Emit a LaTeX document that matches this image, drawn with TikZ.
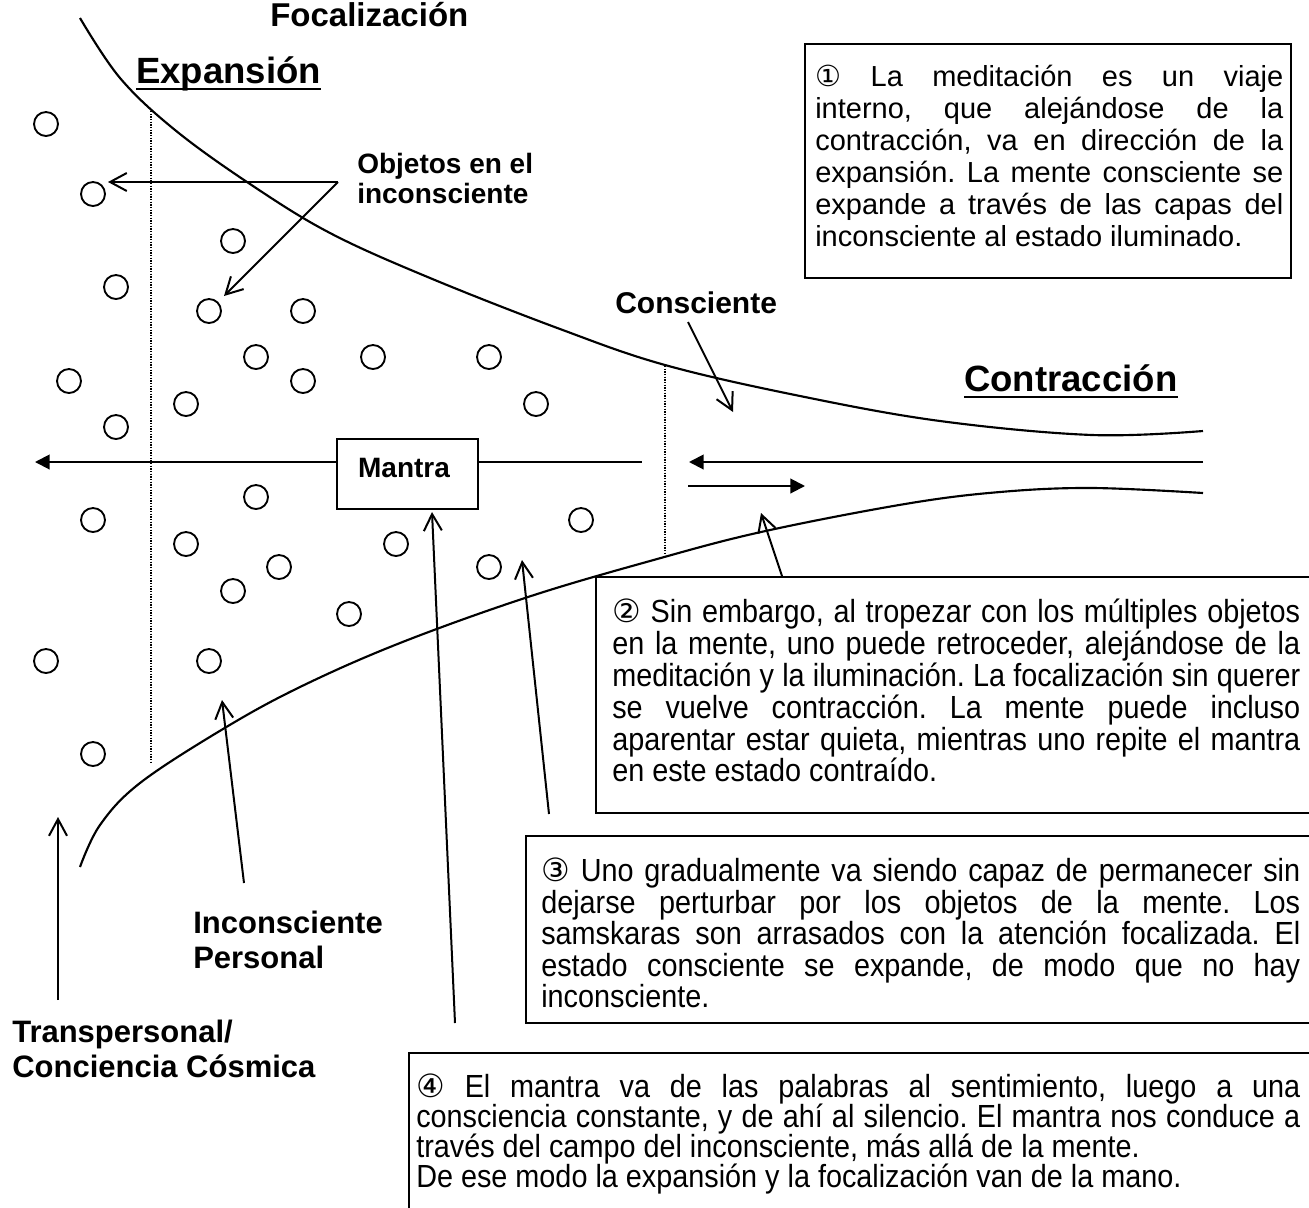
\documentclass[tikz,border=0pt]{standalone}
\usepackage{fontspec}
\setmainfont{Liberation Sans}
\newfontfamily\narrowfont{Liberation Sans}[FakeStretch=0.9]
\newfontfamily\circfont{DejaVu Sans}
\usetikzlibrary{arrows.meta}
\newcommand{\jline}[2]{\makebox[#1][s]{#2}}
\frenchspacing
\begin{document}
\begin{tikzpicture}[x=0.75pt,y=-0.75pt,
  ln/.style={line width=1.5pt},
  barb/.style={-{Straight Barb[length=12.5pt,width=13.5pt]}},
  tri/.style={-{Triangle[length=11pt,width=11pt]}},
  obj/.style={circle,draw,line width=1.4pt,minimum size=18pt,inner sep=0pt},
  dots/.style={line width=1pt,dash pattern=on 1pt off 1pt},
  title/.style={font=\bfseries\fontsize{27.4pt}{30pt}\selectfont,inner sep=0pt,anchor=base west},
  lbl/.style={font=\bfseries\fontsize{23.25pt}{26pt}\selectfont,inner sep=0pt,anchor=base west},
  txta/.style={font=\fontsize{21.75pt}{22.5pt}\selectfont,inner sep=0pt,anchor=base west},
  txtb/.style={font=\narrowfont\fontsize{24pt}{24pt}\selectfont,inner sep=0pt,anchor=base west},
  boxst/.style={draw,line width=1.5pt,inner sep=0pt,anchor=north west}
]
\fill[white] (0,0) rectangle (1309,1207);
\useasboundingbox (0,0) rectangle (1309,1207);
\clip (0,0) rectangle (1309,1207);

% curves
\draw[line width=1.6pt] plot[smooth,tension=0.6] coordinates {(80,18) (120,78) (175,130) (250,184) (330,233) (430,278) (560,329) (665,365) (800,396) (940,421) (1092,435) (1203,431)};
\draw[line width=1.6pt] plot[smooth,tension=0.6] coordinates {(80,867) (100,825) (140,783) (223,729) (300,687) (400,643) (528,597) (650,561) (761,532) (905,504) (1000,492) (1092,488) (1203,493)};

% dotted lines
\draw[dots] (151,111) -- (151,763);
\draw[dots] (665,366) -- (665,553);

% titles
\node[title,font=\bfseries\fontsize{24.75pt}{28pt}\selectfont] (foc) at (270,26) {Focalización};
\node[title] (exp) at (136,83) {Expansión};
\draw[line width=2.2pt] ([yshift=-4.5pt]exp.base west) -- ([yshift=-4.5pt]exp.base east);
\node[title] (con) at (964,391) {Contracción};
\draw[line width=2.2pt] ([yshift=-4.5pt]con.base west) -- ([yshift=-4.5pt]con.base east);

% circles
\foreach \n/\p in {1/{(46,124)},2/{(93,194)},3/{(233,241)},4/{(116,287)},5/{(209,311)},6/{(303,311)},7/{(256,357)},8/{(373,357)},9/{(489,357)},10/{(69,381)},11/{(303,381)},12/{(186,404)},13/{(536,404)},14/{(116,427)},15/{(256,497)},16/{(93,520)},17/{(186,544)},18/{(581,520)},19/{(396,544)},20/{(279,567)},21/{(489,567)},22/{(233,591)},23/{(349,614)},24/{(46,661)},25/{(209,661)},26/{(93,754)}}
  \node[obj] (c\n) at \p {};

% mantra
\node[draw,line width=1.8pt,minimum width=105.75pt,minimum height=52.5pt,inner sep=0pt] (mantra) at (407.5,474) {};
\node[font=\bfseries\fontsize{21pt}{24pt}\selectfont,inner sep=0pt,anchor=base] (mtxt) at (404,477) {Mantra};
\coordinate (mleft) at (35,462);
\coordinate (mright) at (642,462);
\draw[ln,tri] (mantra.west |- mleft) -- (mleft);
\draw[ln] (mantra.east |- mright) -- (mright);

% contraction arrows
\coordinate (r1s) at (1203,462);
\coordinate (r1e) at (689,462);
\draw[ln,tri] (r1s) -- (r1e);
\coordinate (r2s) at (688,486);
\coordinate (r2e) at (805,486);
\draw[ln,tri] (r2s) -- (r2e);

% labels
\node[lbl,font=\bfseries\fontsize{21pt}{24pt}\selectfont] (obj1) at (357,173) {Objetos en el};
\node[lbl,font=\bfseries\fontsize{21pt}{24pt}\selectfont] (obj2) at (357,203) {inconsciente};
\coordinate (oc) at (338,182);
\coordinate (ot1) at (108,182);
\coordinate (ot2) at (224,296);
\draw[ln,barb] (oc) -- (ot1);
\draw[ln,barb] (oc) -- (ot2);

\node[lbl,font=\bfseries\fontsize{22.5pt}{24pt}\selectfont] (cons) at (615,313) {Consciente};
\coordinate (cs) at (688,322);
\coordinate (ce) at (733,412);
\draw[ln,barb] (cs) -- (ce);

\node[lbl] (ip1) at (193,933) {Inconsciente};
\node[lbl] (ip2) at (193,968) {Personal};
\coordinate (ips) at (244,883);
\coordinate (ipe) at (222,700);
\draw[ln,barb] (ips) -- (ipe);

\node[lbl] (tp1) at (12,1042) {Transpersonal/};
\node[lbl] (tp2) at (12,1077) {Conciencia Cósmica};
\coordinate (tps) at (58,1000);
\coordinate (tpe) at (58,817);
\draw[ln,barb] (tps) -- (tpe);

% pointer arrows from the notes
\coordinate (a2s) at (782,576);
\coordinate (a2e) at (761,513);
\draw[ln,barb] (a2s) -- (a2e);
\coordinate (a3s) at (549,814);
\coordinate (a3e) at (522,560);
\draw[ln,barb] (a3s) -- (a3e);
\coordinate (a4s) at (455,1023);
\coordinate (a4e) at (432,512);
\draw[ln,barb] (a4s) -- (a4e);

% box 1
\node[boxst,minimum width=364.5pt,minimum height=175.5pt] (box1) at (804,43) {};
\node[txta] (b1a) at (815,86) {\jline{351pt}{{\circfont ①} La meditación es un viaje}};
\node[txta] (b1b) at (815,118) {\jline{351pt}{interno, que alejándose de la}};
\node[txta] (b1c) at (815,150) {\jline{351pt}{contracción, va en dirección de la}};
\node[txta] (b1d) at (815,182) {\jline{351pt}{expansión. La mente consciente se}};
\node[txta] (b1e) at (815,214) {\jline{351pt}{expande a través de las capas del}};
\node[txta] (b1f) at (815,246) {inconsciente al estado iluminado.};

% box 2
\node[boxst,minimum width=551.25pt,minimum height=177pt] (box2) at (595,576) {};
\node[txtb] (b2a) at (612,622) {\jline{516pt}{{\circfont ②} Sin embargo, al tropezar con los múltiples objetos}};
\node[txtb] (b2b) at (612,654) {\jline{516pt}{en la mente, uno puede retroceder, alejándose de la}};
\node[txtb] (b2c) at (612,686) {\jline{516pt}{meditación y la iluminación. La focalización sin querer}};
\node[txtb] (b2d) at (612,718) {\jline{516pt}{se vuelve contracción. La mente puede incluso}};
\node[txtb] (b2e) at (612,750) {\jline{516pt}{aparentar estar quieta, mientras uno repite el mantra}};
\node[txtb] (b2f) at (612,781) {en este estado contraído.};

% box 3
\node[boxst,minimum width=603.75pt,minimum height=140.25pt] (box3) at (525,835) {};
\node[txtb] (b3a) at (541,881) {\jline{569.25pt}{{\circfont ③} Uno gradualmente va siendo capaz de permanecer sin}};
\node[txtb] (b3b) at (541,913) {\jline{569.25pt}{dejarse perturbar por los objetos de la mente. Los}};
\node[txtb] (b3c) at (541,944) {\jline{569.25pt}{samskaras son arrasados con la atención focalizada. El}};
\node[txtb] (b3d) at (541,976) {\jline{569.25pt}{estado consciente se expande, de modo que no hay}};
\node[txtb] (b3e) at (541,1007) {inconsciente.};

% box 4
\node[boxst,minimum width=691.5pt,minimum height=133.5pt] (box4) at (408,1052) {};
\node[txtb] (b4a) at (416,1097) {\jline{663pt}{{\circfont ④} El mantra va de las palabras al sentimiento, luego a una}};
\node[txtb] (b4b) at (416,1127) {\jline{663pt}{consciencia constante, y de ahí al silencio. El mantra nos conduce a}};
\node[txtb] (b4c) at (416,1157) {través del campo del inconsciente, más allá de la mente.};
\node[txtb] (b4d) at (416,1187) {De ese modo la expansión y la focalización van de la mano.};
\end{tikzpicture}
\end{document}
